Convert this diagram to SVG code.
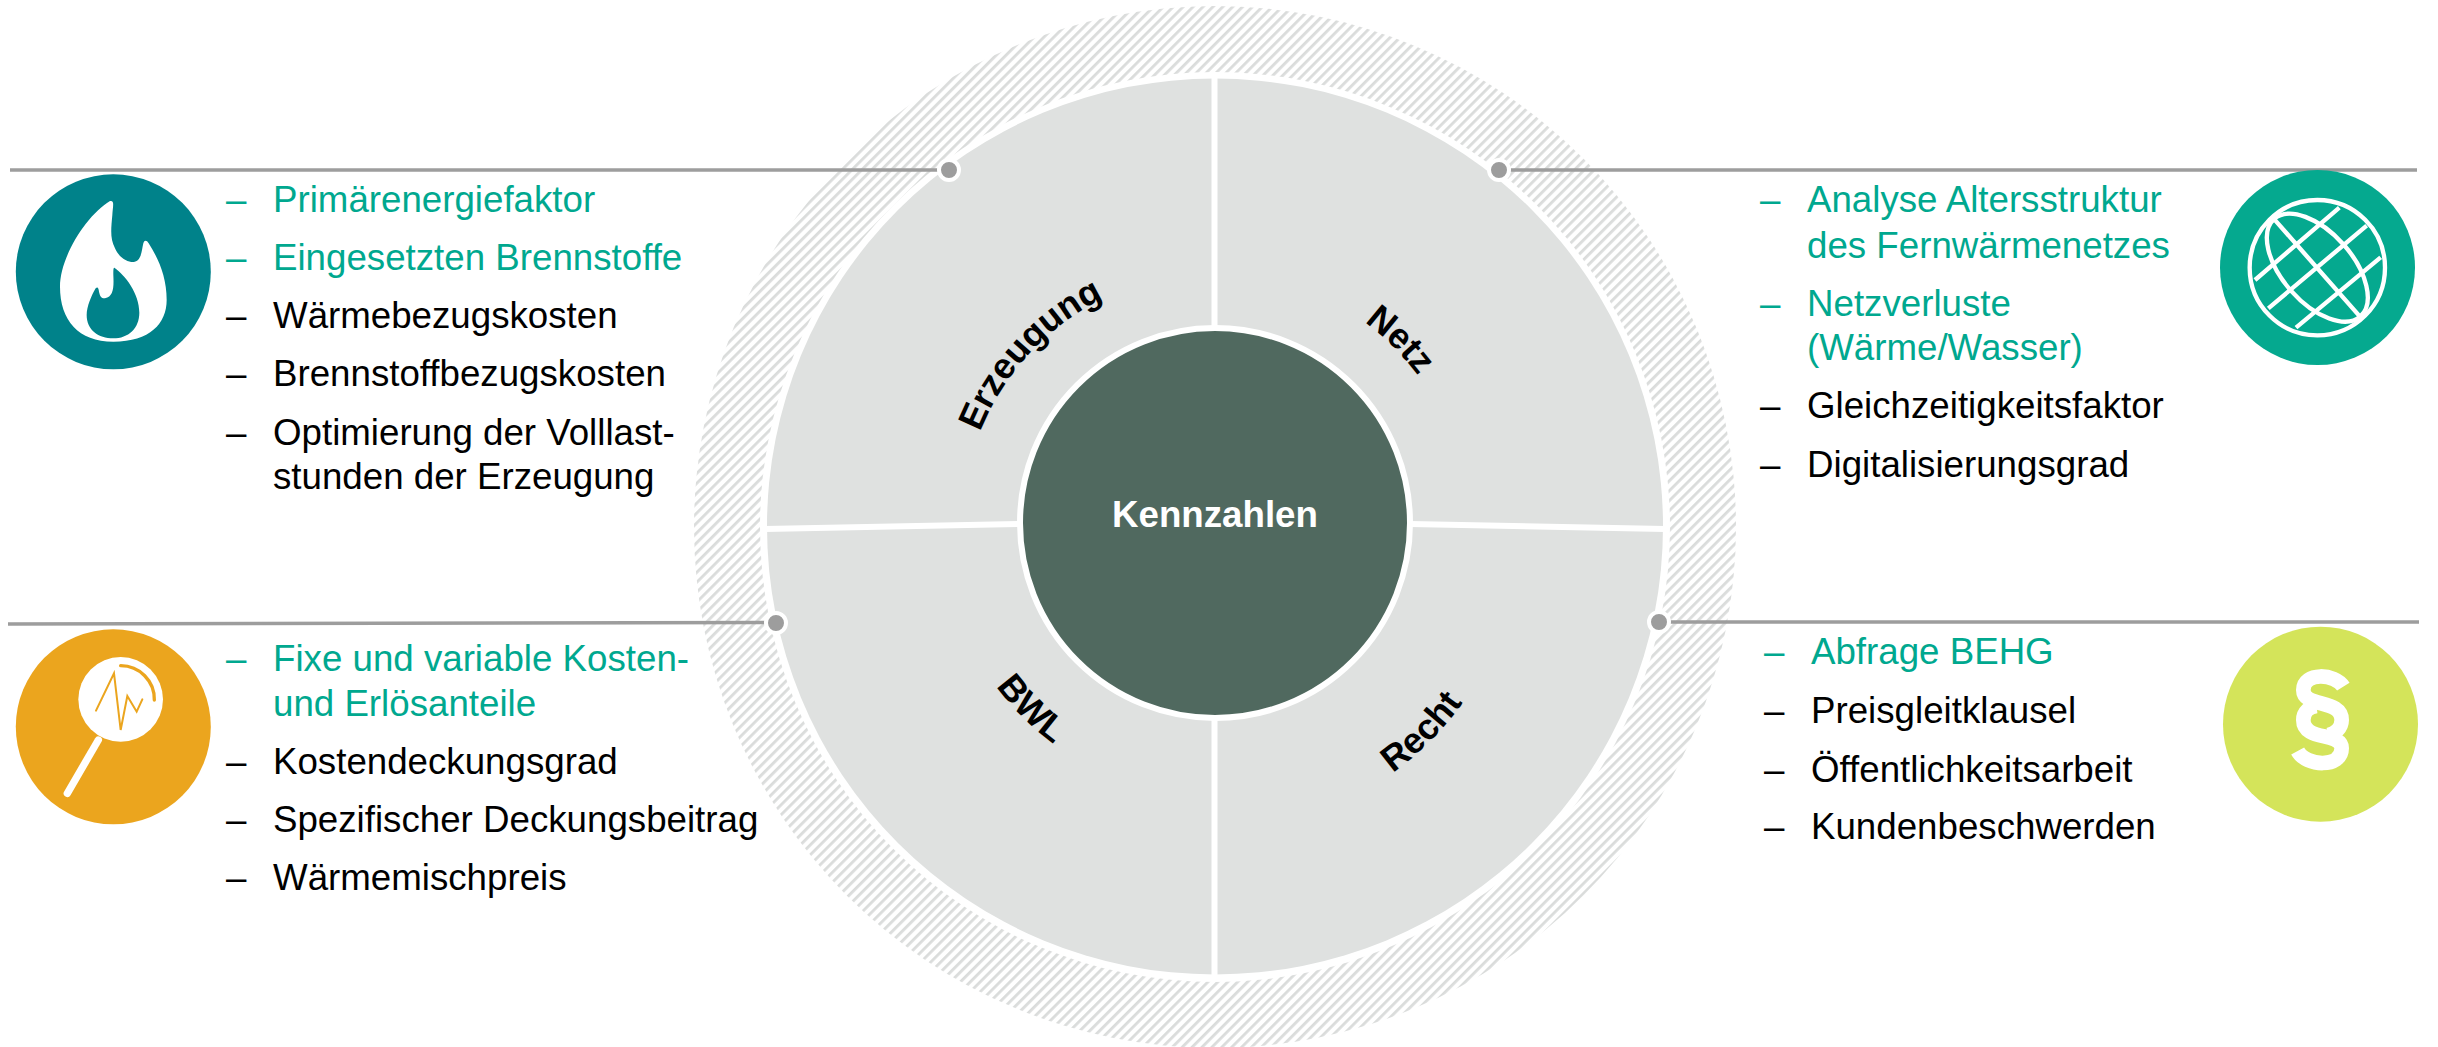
<svg xmlns="http://www.w3.org/2000/svg" width="2438" height="1047" viewBox="0 0 2438 1047">
<style>
text{font-family:"Liberation Sans",Arial,sans-serif}
.b{font-size:36.7px}
.g{fill:#00A88F}
.k{fill:#000}
.l{font-size:36px;font-weight:bold;fill:#000}
.conn{stroke:#9D9D9D;stroke-width:3.5;fill:none}
.dot{fill:#9D9D9D;stroke:#fff;stroke-width:4}
.div{stroke:#fff;stroke-width:6;fill:none}
</style>
<defs>
<pattern id="hatch" width="7" height="7" patternUnits="userSpaceOnUse" patternTransform="rotate(45)">
<rect width="7" height="7" fill="#fff"/>
<rect x="0" width="2.8" height="7" fill="#DADCDB"/>
</pattern>
<path id="pE" d="M963 545 A252 252 0 0 1 1215 273" fill="none"/>
<path id="pN" d="M1215 273 A252 252 0 0 1 1467 525" fill="none"/>
<path id="pB" d="M943 525 A272 272 0 0 0 1215 797" fill="none"/>
<path id="pR" d="M1215 830 A305 305 0 0 0 1520 525" fill="none"/>
</defs>
<rect width="2438" height="1047" fill="#fff"/>
<g id="wheel">
<path fill="url(#hatch)" fill-rule="evenodd" d="M694 527a521 521 0 1 0 1042 0a521 521 0 1 0 -1042 0ZM760 527a455 455 0 1 0 910 0a455 455 0 1 0 -910 0Z"/>
<circle cx="1215" cy="526.5" r="448" fill="#DFE1E0"/>
<path class="div" d="M1214.500 75V330M1214.500 716V980M765 529L1020 524M1410 524L1665 529"/>
</g>
<g id="center">
<circle cx="1215" cy="523" r="195" fill="#50695F" stroke="#fff" stroke-width="6"/>
<text x="1215" y="527" text-anchor="middle" font-size="36.7" font-weight="bold" fill="#fff">Kennzahlen</text>
</g>
<g id="seg-erzeugung"><text class="l"><textPath href="#pE" startOffset="50%" text-anchor="middle">Erzeugung</textPath></text></g>
<g id="seg-netz"><text class="l"><textPath href="#pN" startOffset="50%" text-anchor="middle">Netz</textPath></text></g>
<g id="seg-bwl"><text class="l"><textPath href="#pB" startOffset="50%" text-anchor="middle">BWL</textPath></text></g>
<g id="seg-recht"><text class="l"><textPath href="#pR" startOffset="50%" text-anchor="middle">Recht</textPath></text></g>
<g id="connectors">
<path class="conn" d="M10 170H949M1494 170H2417M8 624L775 622.500M1659 622H2419"/>
<circle class="dot" cx="949" cy="170" r="10"/>
<circle class="dot" cx="1499" cy="170" r="10"/>
<circle class="dot" cx="776" cy="623" r="10"/>
<circle class="dot" cx="1659" cy="622" r="10"/>
</g>
<g id="icon-flame">
<circle cx="113.300" cy="271.800" r="97.500" fill="#00828A"/>
<g transform="translate(0 160) scale(.33333)">
<path fill="#fff" fill-rule="evenodd" d="M330 123C345 120 338 140 337 165C333 210 330 235 345 265C358 295 385 308 402 306C425 302 425 270 430 250C433 240 440 240 446 250C475 295 500 350 500 420C500 490 450 545 340 545C235 545 180 480 180 380C180 290 260 165 330 123ZM343 323C375 345 418 400 418 458C418 505 385 535 340 535C295 535 260 510 260 465C260 440 275 405 287 385C293 378 296 385 297 395C300 410 305 416 315 415C340 410 342 385 340 345C340 330 340 323 343 323Z"/>
</g>
</g>
<g id="icon-lens">
<circle cx="113.300" cy="726.800" r="97.500" fill="#EBA51E"/>
<g transform="translate(0 620) scale(.33333)">
<circle cx="362" cy="238" r="127" fill="#fff"/>
<path d="M295 360L202 520" stroke="#fff" stroke-width="22" stroke-linecap="round" fill="none"/>
<path d="M362 137A101 101 0 0 1 463 240" stroke="#EBA51E" stroke-width="10" stroke-linecap="round" fill="none"/>
<path d="M288 272L342 160L362 330L382 228L410 275L427 238" stroke="#EBA51E" stroke-width="6" stroke-linecap="round" fill="none"/>
</g>
</g>
<g id="icon-globe">
<circle cx="2317.500" cy="267.500" r="97.500" fill="#05A98F"/>
<g transform="translate(2220 160) scale(.33333)" fill="none" stroke="#fff" stroke-width="13">
<circle cx="292" cy="323" r="203"/>
<ellipse cx="292" cy="323" rx="195" ry="105" transform="rotate(48.500 292 323)"/>
<path d="M105 360L358 143M145 445L440 197M228 503L482 292M163 178L420 470"/>
</g>
</g>
<g id="icon-law">
<circle cx="2320.500" cy="724.200" r="97.500" fill="#D4E45A"/>
<g transform="translate(2220 620) scale(.33333)" fill="none" stroke="#fff" stroke-width="44">
<path d="M370 200C345 160 250 155 250 210C250 265 365 235 365 300C365 325 345 340 325 345"/>
<path d="M233 393C258 440 365 445 365 385C365 335 250 365 250 300C250 275 270 260 290 258"/>
</g>
</g>
<g id="list-erzeugung" class="b">
<g class="g"><text x="226" y="212">–</text><text x="273" y="212">Primärenergiefaktor</text>
<text x="226" y="270">–</text><text x="273" y="270">Eingesetzten Brennstoffe</text></g>
<g class="k"><text x="226" y="328">–</text><text x="273" y="328">Wärmebezugskosten</text>
<text x="226" y="386">–</text><text x="273" y="386">Brennstoffbezugskosten</text>
<text x="226" y="445">–</text><text x="273" y="445">Optimierung der Volllast-</text>
<text x="273" y="489">stunden der Erzeugung</text></g>
</g>
<g id="list-bwl" class="b">
<g class="g"><text x="226" y="671">–</text><text x="273" y="671">Fixe und variable Kosten-</text>
<text x="273" y="716">und Erlösanteile</text></g>
<g class="k"><text x="226" y="774">–</text><text x="273" y="774">Kostendeckungsgrad</text>
<text x="226" y="832">–</text><text x="273" y="832">Spezifischer Deckungsbeitrag</text>
<text x="226" y="890">–</text><text x="273" y="890">Wärmemischpreis</text></g>
</g>
<g id="list-netz" class="b">
<g class="g"><text x="1760" y="212">–</text><text x="1807" y="212">Analyse Altersstruktur</text>
<text x="1807" y="258">des Fernwärmenetzes</text>
<text x="1760" y="316">–</text><text x="1807" y="316">Netzverluste</text>
<text x="1807" y="360">(Wärme/Wasser)</text></g>
<g class="k"><text x="1760" y="418">–</text><text x="1807" y="418">Gleichzeitigkeitsfaktor</text>
<text x="1760" y="477">–</text><text x="1807" y="477">Digitalisierungsgrad</text></g>
</g>
<g id="list-recht" class="b">
<g class="g"><text x="1764" y="664">–</text><text x="1811" y="664">Abfrage BEHG</text></g>
<g class="k"><text x="1764" y="723">–</text><text x="1811" y="723">Preisgleitklausel</text>
<text x="1764" y="782">–</text><text x="1811" y="782">Öffentlichkeitsarbeit</text>
<text x="1764" y="839">–</text><text x="1811" y="839">Kundenbeschwerden</text></g>
</g>
</svg>
